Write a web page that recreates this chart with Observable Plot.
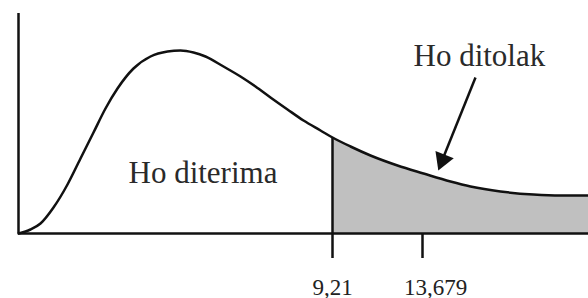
<!DOCTYPE html>
<html><head><meta charset="utf-8">
<script src="https://cdn.jsdelivr.net/npm/d3@7"></script>
<script src="https://cdn.jsdelivr.net/npm/@observablehq/plot@0.6"></script>
<style>html,body{margin:0;padding:0;background:#fff;overflow:hidden} svg{display:block}</style>
</head><body><div id="chart"></div>
<script>
// Schematic chi-square density curve (arbitrary units)
const curveX = [0, 12, 22, 35, 49, 62, 75, 87, 99, 115, 132, 149, 162, 175, 187, 205, 222, 237, 252, 269, 285, 302, 314, 332, 352, 379, 405, 432, 452, 482, 515, 542, 570];
const curveY = [0, 4, 10, 26, 49, 75, 101, 125, 145, 165, 177, 182, 183, 181, 177, 167, 157, 147, 136, 124, 113, 103, 96, 87, 78, 68, 60, 52, 47, 42, 39, 38, 38];
const criticalX = 314;               // position of the critical value 9,21
const tickPos = [314, 404];
const tickLabels = ["9,21", "13,679"];
const acceptLabel = "Ho diterima";
const rejectLabel = "Ho ditolak";

const curve = curveX.map((x, i) => ({x, y: curveY[i]}));
const tail = curve.filter(d => d.x >= criticalX);
const critY = curve.find(d => d.x === criticalX).y;

const serif = "Liberation Serif, Times New Roman, serif";
const ink = "#111";

const plot = Plot.plot({
  width: 588,
  height: 298,
  marginLeft: 18,
  marginRight: 0,
  marginTop: 13,
  marginBottom: 65,
  x: {domain: [0, 570], axis: null},
  y: {domain: [0, 220], axis: null},
  style: {background: "#fff", overflow: "visible"},
  marks: [
    Plot.areaY(tail, {x: "x", y: "y", curve: "monotone-x", fill: "#c0c0c0"}),
    Plot.ruleX([0], {y1: 0, y2: 220, stroke: ink, strokeWidth: 2.5}),
    Plot.ruleY([0], {x1: 0, x2: 570, stroke: ink, strokeWidth: 2.5}),
    Plot.ruleX([criticalX], {y1: 0, y2: critY, stroke: ink, strokeWidth: 2.5}),
    Plot.ruleX(tickPos, {y1: 0, y2: -25, stroke: ink, strokeWidth: 2.5}),
    Plot.line(curve, {x: "x", y: "y", curve: "monotone-x", stroke: ink, strokeWidth: 2.5}),
    Plot.text([tickLabels[0]], {x: tickPos[0], y: -61, text: d => d, lineAnchor: "bottom", fontSize: 23, fontFamily: serif, fill: "#222"}),
    Plot.text([tickLabels[1]], {x: tickPos[1], y: -61, dx: 13, text: d => d, lineAnchor: "bottom", fontSize: 23, fontFamily: serif, fill: "#222"}),
    Plot.text([acceptLabel], {x: 110, y: 51, text: d => d, textAnchor: "start", lineAnchor: "bottom", fontSize: 31, fontFamily: serif, fill: "#2a2a2a"}),
    Plot.text([rejectLabel], {x: 395, y: 168, text: d => d, textAnchor: "start", lineAnchor: "bottom", fontSize: 31, fontFamily: serif, fill: "#2a2a2a"}),
    Plot.link([{x1: 457, y1: 156, x2: 424, y2: 74}], {x1: "x1", y1: "y1", x2: "x2", y2: "y2", stroke: ink, strokeWidth: 2.5}),
    Plot.dot([{x: 424, y: 73.5}], {x: "x", y: "y", symbol: "triangle", r: 7.3, rotate: 201.7, fill: ink, stroke: "none"})
  ]
});
document.getElementById("chart").appendChild(plot);
</script>
</body></html>
